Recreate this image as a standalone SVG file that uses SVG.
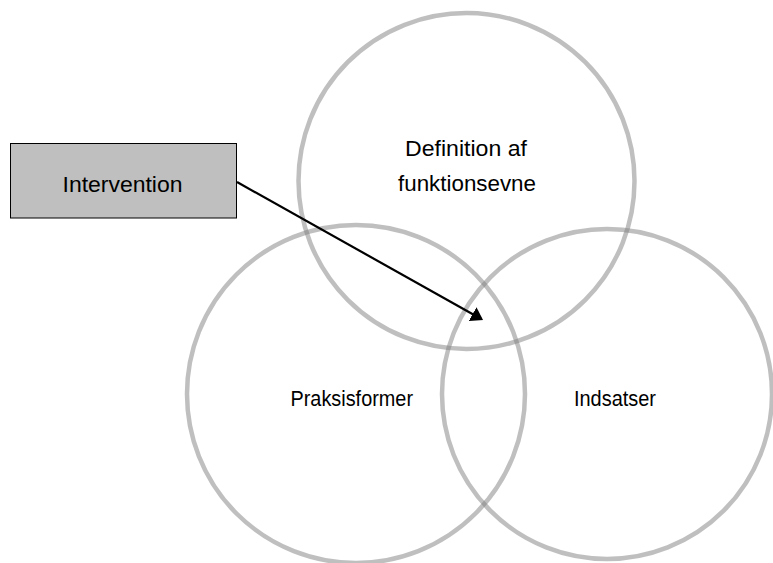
<svg xmlns="http://www.w3.org/2000/svg" width="773" height="563" viewBox="0 0 773 563">
  <style>
    .ring { fill: none; stroke: #7f7f7f; stroke-opacity: 0.5; stroke-width: 4.5; }
    .box { fill: #bfbfbf; stroke: #000000; stroke-width: 1; }
    .lbl { font-family: "Liberation Sans", Arial, sans-serif; font-size: 22px; fill: #000000; }
    .conn { fill: none; stroke: #000000; stroke-width: 2.2; }
  </style>
  <defs>
    <marker id="arrow" markerUnits="userSpaceOnUse" markerWidth="14" markerHeight="17" refX="10" refY="8" orient="auto">
      <path d="M0,0 L12,8 L0,16 z" fill="#000000"/>
    </marker>
  </defs>
  <rect width="773" height="563" fill="#ffffff"/>

  <g id="node-definition">
    <circle class="ring" cx="466.5" cy="181" r="168"/>
    <text class="lbl" x="405" y="156" textLength="122" lengthAdjust="spacingAndGlyphs">Definition af</text>
    <text class="lbl" x="398" y="190.7" textLength="138" lengthAdjust="spacingAndGlyphs">funktionsevne</text>
  </g>

  <g id="node-praksisformer">
    <circle class="ring" cx="356" cy="394" r="169"/>
    <text class="lbl" x="290.5" y="406" textLength="122.5" lengthAdjust="spacingAndGlyphs">Praksisformer</text>
  </g>

  <g id="node-indsatser">
    <circle class="ring" cx="607" cy="394" r="165"/>
    <text class="lbl" x="574" y="406" textLength="82" lengthAdjust="spacingAndGlyphs">Indsatser</text>
  </g>

  <g id="node-intervention">
    <rect class="box" x="10.5" y="143.5" width="226" height="74.5"/>
    <text class="lbl" x="62.5" y="191.7" textLength="120" lengthAdjust="spacingAndGlyphs">Intervention</text>
  </g>

  <g id="connectors">
    <line class="conn" x1="237" y1="182" x2="481.3" y2="319" marker-end="url(#arrow)"/>
  </g>
</svg>
